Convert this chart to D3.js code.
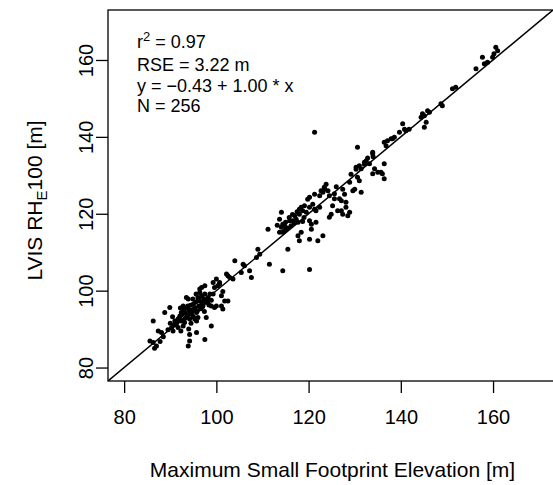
<!DOCTYPE html>
<html>
<head>
<meta charset="utf-8">
<script src="https://cdn.jsdelivr.net/npm/d3@7"></script>
<style>
  body { margin: 0; background: #fff; }
  svg { font-family: "Liberation Sans", Arial, sans-serif; }
</style>
</head>
<body>
<div id="container"></div>
<script>
/* DATA */
// points around the 85-100 m group
const lowPoints = [
  [86.3,92.1],[85.6,86.9],[86.3,86.5],[87.0,85.6],[86.6,85.0],[87.4,89.5],[88.1,89.1],[88.8,94.3],[89.9,95.6],
  [90.6,89.5],[90.3,90.4],[91.3,91.3],[91.0,92.1],[91.7,92.6],[92.1,93.4],[92.4,94.3],[92.8,94.7],[93.1,95.2],
  [93.5,95.6],[93.8,96.0],[92.4,92.1],[93.1,91.7],[93.5,93.0],[94.2,92.6],[94.6,93.9],[94.9,94.7],[95.3,95.6],
  [94.2,94.7],[93.8,93.4],[92.8,90.8],[91.7,90.4],[93.9,97.8],[96.0,98.2],[96.4,99.5],[96.8,100.8],[96.4,100.4],
  [97.5,101.3],[98.6,99.1],[98.2,97.4],[96.8,97.0],[97.1,96.1],[95.7,94.3],[96.0,93.0],[95.3,92.6],[95.7,92.1],
  [94.2,88.6],[95.7,89.1],[97.8,93.0],[98.9,90.8],[97.5,87.3],[94.2,86.9],[93.9,85.6],[95.6,99.1],[96.8,98.7],
  [97.5,99.1],[96.0,97.4],[97.8,96.9],[98.2,98.2],[92.8,96.0],[94.9,97.8],[93.5,98.2],[92.0,93.0],[92.6,93.8],
  [93.3,94.1],[94.0,95.1],[94.4,96.2],[95.0,96.5],[95.5,97.0],[96.2,96.0],[96.6,95.3],[97.0,95.8],[95.0,93.3],
  [94.5,91.5],[93.0,92.5],[91.5,91.8],[90.8,91.0],[92.2,95.5],[94.8,95.0],[95.9,94.8],[96.3,97.8],[97.3,97.9],
  [89.5,89.8],[88.5,88.0],[90.0,91.5],[97.4,94.6],[98.4,96.3],[87.8,86.8],[90.5,93.2],[92.3,89.5],[94.0,90.0]
];
// points between 98 and 112 m
const midLowPoints = [
  [99.3,99.1],[99.6,100.8],[100.7,102.1],[100.3,101.3],[101.4,99.8],[101.1,98.7],[101.8,97.3],[102.5,97.3],
  [102.5,103.9],[102.9,103.4],[103.6,103.0],[104.0,107.8],[105.4,104.7],[105.8,106.9],[106.1,106.5],[107.2,105.2],
  [107.6,103.4],[109.0,110.8],[108.7,108.6],[111.5,106.9],[111.2,116.0],[100.0,103.0],[102.2,104.3],[101.1,96.0],
  [100.0,96.0],[98.9,96.0],[99.6,95.6],[101.4,95.2],[109.4,109.5],[99.3,102.1],[100.7,101.7],[98.9,97.5]
];
// points around the 113-132 m group
const midPoints = [
  [113.7,118.6],[114.1,116.5],[113.7,115.2],[114.8,116.9],[114.4,115.2],[115.1,116.0],[115.5,110.8],[114.4,105.2],
  [114.1,120.4],[114.4,117.3],[114.8,115.6],[115.5,116.3],[116.2,116.9],[115.9,118.2],[117.0,119.5],[117.3,118.6],
  [117.7,117.8],[118.0,119.9],[118.7,120.8],[118.4,121.7],[119.1,122.1],[119.5,120.4],[120.2,121.7],[118.4,115.2],
  [120.2,118.2],[120.6,117.3],[120.6,116.0],[120.2,113.4],[123.1,114.3],[124.5,119.1],[124.9,119.9],[126.3,120.8],
  [127.1,120.8],[127.1,123.4],[128.1,123.0],[128.5,119.5],[127.4,119.9],[121.6,120.8],[122.4,121.7],[120.2,124.3],
  [121.3,125.1],[122.7,126.0],[123.4,126.9],[124.2,126.0],[123.8,127.7],[123.1,125.6],[124.5,124.7],[125.6,123.9],
  [126.7,123.9],[127.8,125.1],[127.4,126.4],[128.9,128.2],[129.2,130.3],[130.3,131.6],[130.6,129.5],[131.0,128.6],
  [129.6,126.0],[130.0,126.4],[131.0,132.5],[132.1,132.9],[132.5,133.8],[121.3,141.2],[125.2,122.1],[123.5,126.4],
  [122.4,124.7],[118.0,121.2],[116.6,118.2],[119.8,123.8],[120.9,122.5],[121.3,121.2],[117.7,114.3],[118.0,113.0],
  [122.0,113.0],[121.6,117.8],[120.2,105.5],[115.0,117.8],[115.8,119.0],[116.5,119.8],[117.5,120.5],[119.0,119.0],
  [113.2,117.0],[128.1,121.7],[128.9,120.4],[125.6,125.2],[126.0,127.0],[118.7,118.0],[116.9,117.5]
];
// points above 130 m
const highPoints = [
  [130.6,137.3],[130.3,132.1],[132.1,133.4],[133.2,133.0],[133.9,135.6],[134.3,131.7],[135.0,130.8],[133.9,130.4],
  [136.4,133.0],[133.9,136.0],[136.0,130.4],[136.4,129.1],[135.7,130.8],[131.4,131.7],[131.4,125.6],[136.8,137.7],
  [136.4,138.6],[137.1,139.0],[138.6,139.9],[138.2,139.5],[139.7,141.2],[140.8,142.0],[140.4,143.4],[141.1,141.6],
  [141.8,142.0],[137.9,139.5],[144.4,145.1],[145.1,145.5],[144.7,146.0],[145.8,146.8],[145.5,143.8],[145.1,142.5],
  [146.2,146.4],[149.0,148.1],[148.7,148.6],[151.2,152.5],[151.9,152.9],[156.3,157.7],[157.7,160.7],[158.1,159.0],
  [158.8,159.4],[160.6,163.3],[160.2,161.6],[161.0,162.4],[159.9,160.7],[132.8,134.5],[134.0,134.8]
];

const xTicks = [80, 100, 120, 140, 160];
const yTicks = [80, 100, 120, 140, 160];
const axisLimits = [76.5, 173];
const statLines = ["RSE = 3.22 m", "y = \u22120.43 + 1.00 * x", "N = 256"];

/* CONSTANTS */
const width = 553;
const height = 485;
const margin = { top: 10, right: 0, bottom: 104, left: 108 };
const plotRight = width;
const plotBottom = height - margin.bottom;
const axisFont = 20;
const titleFont = 21;

const points = lowPoints.concat(midLowPoints, midPoints, highPoints);

/* SCALES */
const xScale = d3.scaleLinear().domain(axisLimits).range([margin.left, plotRight]);
const yScale = d3.scaleLinear().domain(axisLimits).range([plotBottom, margin.top]);

/* SVG */
const svg = d3.select("#container")
  .append("svg")
  .attr("width", width)
  .attr("height", height);

svg.append("defs").append("clipPath").attr("id", "plotclip")
  .append("rect")
  .attr("x", margin.left).attr("y", margin.top)
  .attr("width", plotRight - margin.left).attr("height", plotBottom - margin.top);

// 1:1 line
svg.append("line")
  .attr("clip-path", "url(#plotclip)")
  .attr("x1", xScale(axisLimits[0])).attr("y1", yScale(axisLimits[0]))
  .attr("x2", xScale(axisLimits[1])).attr("y2", yScale(axisLimits[1]))
  .attr("stroke", "#000").attr("stroke-width", 1.5);

// points
svg.append("g")
  .selectAll("circle")
  .data(points)
  .join("circle")
  .attr("cx", d => xScale(d[0]))
  .attr("cy", d => yScale(d[1]))
  .attr("r", 2.5)
  .attr("fill", "#000");

// box
svg.append("rect")
  .attr("x", margin.left).attr("y", margin.top)
  .attr("width", plotRight - margin.left + 2).attr("height", plotBottom - margin.top)
  .attr("fill", "none").attr("stroke", "#000").attr("stroke-width", 1.3);

/* AXES */
const xAxis = d3.axisBottom(xScale).tickValues(xTicks).tickSize(12).tickPadding(17);
svg.append("g")
  .attr("transform", `translate(0,${plotBottom})`)
  .call(xAxis)
  .call(g => g.select(".domain").remove())
  .call(g => g.selectAll("line").attr("stroke-width", 1.3))
  .call(g => g.selectAll("text").attr("font-size", axisFont).attr("fill", "#000")
    .attr("font-family", "Liberation Sans, Arial, sans-serif"));

const yAxis = d3.axisLeft(yScale).tickValues(yTicks).tickSize(12);
svg.append("g")
  .attr("transform", `translate(${margin.left},0)`)
  .call(yAxis)
  .call(g => g.select(".domain").remove())
  .call(g => g.selectAll("line").attr("stroke-width", 1.3))
  .call(g => g.selectAll("text")
    .attr("font-size", axisFont).attr("fill", "#000")
    .attr("font-family", "Liberation Sans, Arial, sans-serif")
    .attr("text-anchor", "middle")
    .attr("x", 0).attr("y", -15).attr("dy", 0)
    .attr("transform", "rotate(-90)"));

/* LABELS */
svg.append("text")
  .attr("x", (margin.left + plotRight) / 2 + 2)
  .attr("y", 477)
  .attr("text-anchor", "middle")
  .attr("font-size", titleFont)
  .text("Maximum Small Footprint Elevation [m]");

const yTitle = svg.append("text")
  .attr("transform", `translate(42,${(margin.top + plotBottom) / 2 + 5}) rotate(-90)`)
  .attr("text-anchor", "middle")
  .attr("font-size", titleFont);
yTitle.append("tspan").text("LVIS RH");
yTitle.append("tspan").attr("font-size", 15).attr("dy", 5).text("E");
yTitle.append("tspan").attr("dy", -5).text("100 [m]");

// stats
const stats = svg.append("g").attr("font-size", 18);
const r2 = stats.append("text").attr("x", 137).attr("y", 48);
r2.append("tspan").text("r");
r2.append("tspan").attr("font-size", 13).attr("dy", -7).text("2");
r2.append("tspan").attr("dy", 7).text(" = 0.97");
stats.selectAll("text.stat")
  .data(statLines)
  .join("text")
  .attr("class", "stat")
  .attr("x", 137)
  .attr("y", (d, i) => 71 + i * 20.5)
  .text(d => d);
</script>
</body>
</html>
